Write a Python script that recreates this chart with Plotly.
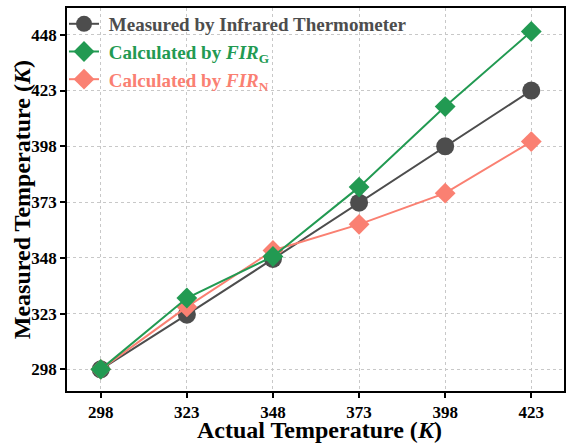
import plotly.graph_objects as go

actual = [298, 323, 348, 373, 398, 423]
measured = [298, 322.5, 347.5, 372.7, 398, 423]
fir_g = [298, 330, 348.6, 379.7, 415.8, 449.5]
fir_n = [298, 326, 351.3, 363, 377, 400.1]
tick_vals = [298, 323, 348, 373, 398, 423, 448]

GRAY = "#4d4d4d"
GREEN = "#229a52"
SALMON = "#fa8072"
FONT = "Times New Roman, Liberation Serif, serif"

fig = go.Figure()
fig.add_trace(go.Scatter(
    x=actual, y=measured, mode="lines+markers",
    name=f"<span style='color:{GRAY}'><b>&nbsp;Measured by Infrared Thermometer</b></span>",
    line=dict(color=GRAY, width=2),
    marker=dict(symbol="circle", size=18, color=GRAY)))
fig.add_trace(go.Scatter(
    x=actual, y=fir_n, mode="lines+markers",
    name=f"<span style='color:{SALMON}'><b>&nbsp;Calculated by <i>FIR</i><sub>N</sub></b></span>",
    line=dict(color=SALMON, width=2),
    marker=dict(symbol="diamond", size=16, color=SALMON)))
fig.add_trace(go.Scatter(
    x=actual, y=fir_g, mode="lines+markers",
    name=f"<span style='color:{GREEN}'><b>&nbsp;Calculated by <i>FIR</i><sub>G</sub></b></span>",
    line=dict(color=GREEN, width=2),
    marker=dict(symbol="diamond", size=16, color=GREEN)))

axis_common = dict(
    showline=True, linecolor="black", linewidth=1.5, mirror=True,
    ticks="outside", ticklen=5, tickwidth=1.5, tickcolor="black",
    showgrid=True, gridcolor="#c8c8c8", griddash="dot", gridwidth=1,
    zeroline=False,
    tickfont=dict(family=FONT, size=17, color="black", weight="bold"),
)

fig.update_layout(
    width=567, height=443,
    margin=dict(l=67, r=1, t=8, b=52),
    paper_bgcolor="white", plot_bgcolor="white",
    font=dict(family=FONT, color="black"),
    showlegend=True,
    legend=dict(x=-0.006, y=1.008, xanchor="left", yanchor="top",
                bgcolor="rgba(0,0,0,0)", traceorder="normal",
                font=dict(family=FONT, size=19), itemwidth=30,
                tracegroupgap=0),
    xaxis=dict(range=[288.2, 432.5], tickvals=actual, **axis_common),
    yaxis=dict(range=[288.3, 460], tickvals=tick_vals, **axis_common),
    annotations=[
        dict(text="<b>Actual Temperature (<i>K</i>)</b>",
             xref="paper", yref="paper", x=(321 - 67) / 499, y=(391 - 430) / 383,
             xanchor="center", yanchor="middle", showarrow=False,
             font=dict(family=FONT, size=24, color="black")),
        dict(text="<b>Measured Temperature (<i>K</i>)</b>",
             xref="paper", yref="paper", x=(22 - 67) / 499, y=(391 - 200) / 383,
             xanchor="center", yanchor="middle", showarrow=False, textangle=-90,
             font=dict(family=FONT, size=24, color="black")),
    ],
)

# Legend order: measured, FIR_G, FIR_N (FIR_G drawn on top)
fig.data[0].legendrank = 1
fig.data[2].legendrank = 2
fig.data[1].legendrank = 3

fig.write_html("out.html")
